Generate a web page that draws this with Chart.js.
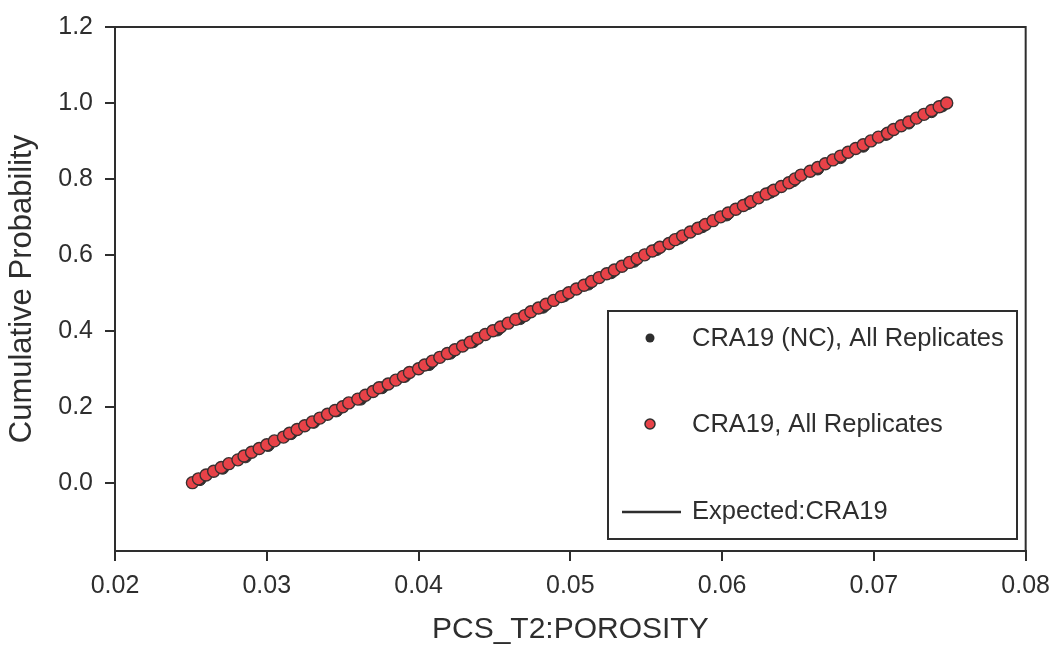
<!DOCTYPE html>
<html>
<head>
<meta charset="utf-8">
<script src="https://cdn.jsdelivr.net/npm/chart.js@4/dist/chart.umd.min.js"></script>
<style>
  html, body { margin: 0; padding: 0; background: #fff; }
  #wrap { width: 1060px; height: 648px; }
</style>
</head>
<body>
<div id="wrap"><canvas id="myChart" width="1060" height="648"></canvas></div>
<script>
const xTicks = [0.02, 0.03, 0.04, 0.05, 0.06, 0.07, 0.08];
const yTicks = [0.0, 0.2, 0.4, 0.6, 0.8, 1.0, 1.2];

// CRA19, All Replicates (red)
const redX = [0.0251, 0.0255, 0.0260, 0.0265, 0.0270, 0.0275, 0.0281, 0.0285, 0.0290, 0.0295,
  0.0300, 0.0305, 0.0311, 0.0315, 0.0320, 0.0325, 0.0330, 0.0335, 0.0340, 0.0345,
  0.0350, 0.0354, 0.0360, 0.0365, 0.0370, 0.0374, 0.0380, 0.0385, 0.0390, 0.0394,
  0.0400, 0.0404, 0.0409, 0.0414, 0.0419, 0.0424, 0.0429, 0.0434, 0.0439, 0.0444,
  0.0449, 0.0454, 0.0459, 0.0464, 0.0470, 0.0474, 0.0479, 0.0484, 0.0489, 0.0494,
  0.0499, 0.0504, 0.0509, 0.0514, 0.0519, 0.0524, 0.0529, 0.0534, 0.0539, 0.0544,
  0.0549, 0.0554, 0.0559, 0.0565, 0.0569, 0.0574, 0.0579, 0.0584, 0.0589, 0.0594,
  0.0599, 0.0604, 0.0609, 0.0614, 0.0619, 0.0624, 0.0629, 0.0634, 0.0639, 0.0644,
  0.0648, 0.0652, 0.0658, 0.0663, 0.0668, 0.0673, 0.0678, 0.0683, 0.0688, 0.0693,
  0.0698, 0.0703, 0.0709, 0.0713, 0.0718, 0.0723, 0.0728, 0.0733, 0.0738, 0.0743,
  0.0748];
const redY = [0.00, 0.01, 0.02, 0.03, 0.04, 0.05, 0.06, 0.07, 0.08, 0.09,
  0.10, 0.11, 0.12, 0.13, 0.14, 0.15, 0.16, 0.17, 0.18, 0.19,
  0.20, 0.21, 0.22, 0.23, 0.24, 0.25, 0.26, 0.27, 0.28, 0.29,
  0.30, 0.31, 0.32, 0.33, 0.34, 0.35, 0.36, 0.37, 0.38, 0.39,
  0.40, 0.41, 0.42, 0.43, 0.44, 0.45, 0.46, 0.47, 0.48, 0.49,
  0.50, 0.51, 0.52, 0.53, 0.54, 0.55, 0.56, 0.57, 0.58, 0.59,
  0.60, 0.61, 0.62, 0.63, 0.64, 0.65, 0.66, 0.67, 0.68, 0.69,
  0.70, 0.71, 0.72, 0.73, 0.74, 0.75, 0.76, 0.77, 0.78, 0.79,
  0.80, 0.81, 0.82, 0.83, 0.84, 0.85, 0.86, 0.87, 0.88, 0.89,
  0.90, 0.91, 0.92, 0.93, 0.94, 0.95, 0.96, 0.97, 0.98, 0.99,
  1.00];

// CRA19 (NC), All Replicates (black)
const blackX = [0.0256, 0.0271, 0.0286, 0.0301, 0.0316, 0.0331, 0.0346, 0.0362, 0.0376, 0.0391,
  0.0407, 0.0421, 0.0436, 0.0452, 0.0467, 0.0482, 0.0496, 0.0512, 0.0527, 0.0542,
  0.0557, 0.0572, 0.0587, 0.0603, 0.0617, 0.0632, 0.0647, 0.0663, 0.0678, 0.0693,
  0.0708, 0.0723, 0.0738, 0.0745];
const blackY = [0.008, 0.038, 0.068, 0.098, 0.129, 0.159, 0.189, 0.220, 0.250, 0.280,
  0.311, 0.341, 0.371, 0.402, 0.432, 0.462, 0.492, 0.523, 0.553, 0.583,
  0.614, 0.644, 0.674, 0.705, 0.735, 0.765, 0.795, 0.826, 0.856, 0.886,
  0.917, 0.947, 0.977, 0.992];

// Expected:CRA19
const expX = [0.0250, 0.0750];
const expY = [0.0, 1.0];

const legendLabels = ['CRA19 (NC), All Replicates', 'CRA19, All Replicates', 'Expected:CRA19'];

const FONT = "'Liberation Sans', Arial, sans-serif";
const INK = '#2e2e2e';
const RED = 'rgb(232,66,72)';

const toPoints = (xs, ys) => xs.map((x, i) => ({ x: x, y: ys[i] }));

// box around the plot + legend inside
const framePlugin = {
  id: 'frame',
  afterDraw(chart) {
    const { ctx, chartArea: a } = chart;
    ctx.save();
    ctx.strokeStyle = INK;
    ctx.lineWidth = 2;
    ctx.beginPath();
    ctx.moveTo(a.left, a.top);
    ctx.lineTo(a.right, a.top);
    ctx.lineTo(a.right, a.bottom);
    ctx.stroke();

    // legend box
    const bx = 608, by = 311, bw = 409, bh = 228;
    ctx.fillStyle = '#fff';
    ctx.fillRect(bx, by, bw, bh);
    ctx.strokeRect(bx, by, bw, bh);

    // symbols
    ctx.beginPath();
    ctx.arc(650, 338, 4.5, 0, Math.PI * 2);
    ctx.fillStyle = INK;
    ctx.fill();

    ctx.beginPath();
    ctx.arc(650, 424, 5, 0, Math.PI * 2);
    ctx.fillStyle = RED;
    ctx.fill();
    ctx.lineWidth = 1.5;
    ctx.strokeStyle = INK;
    ctx.stroke();

    ctx.beginPath();
    ctx.lineWidth = 2.5;
    ctx.moveTo(622, 512);
    ctx.lineTo(681, 512);
    ctx.stroke();

    ctx.fillStyle = INK;
    ctx.font = '25.5px ' + FONT;
    ctx.textBaseline = 'middle';
    ctx.textAlign = 'left';
    ctx.fillText(legendLabels[0], 692, 339);
    ctx.fillText(legendLabels[1], 692, 425);
    ctx.fillText(legendLabels[2], 692, 512);
    ctx.restore();
  }
};

const ctx = document.getElementById('myChart').getContext('2d');

const myChart = new Chart(ctx, {
  type: 'scatter',
  data: {
    datasets: [{
      label: legendLabels[1],
      data: toPoints(redX, redY),
      backgroundColor: RED,
      borderColor: '#3a3030',
      borderWidth: 1.4,
      pointRadius: 6,
      order: 1
    }, {
      label: legendLabels[0],
      data: toPoints(blackX, blackY),
      backgroundColor: INK,
      borderColor: INK,
      pointRadius: 6,
      order: 2
    }, {
      type: 'line',
      label: legendLabels[2],
      data: toPoints(expX, expY),
      borderColor: INK,
      borderWidth: 2,
      pointRadius: 0,
      fill: false,
      order: 3
    }]
  },
  options: {
    responsive: false,
    animation: false,
    layout: {
      padding: { top: 26, right: 31, left: 0, bottom: 0 }
    },
    scales: {
      x: {
        type: 'linear',
        min: 0.02,
        max: 0.08,
        afterBuildTicks: (scale) => { scale.ticks = xTicks.map((v) => ({ value: v })); },
        afterFit: (scale) => { scale.height = 97; },
        ticks: {
          callback: (v) => v.toFixed(2),
          color: INK,
          font: { family: FONT, size: 25 },
          padding: 10,
          maxRotation: 0
        },
        grid: {
          drawOnChartArea: false,
          drawTicks: true,
          tickLength: 10,
          color: INK,
          lineWidth: 2
        },
        border: { display: true, color: INK, width: 2 },
        title: {
          display: true,
          text: 'PCS_T2:POROSITY',
          color: INK,
          font: { family: FONT, size: 30 },
          padding: { top: 0, bottom: 0 }
        }
      },
      y: {
        type: 'linear',
        min: -0.18,
        max: 1.2,
        afterBuildTicks: (scale) => { scale.ticks = yTicks.map((v) => ({ value: v })); },
        afterFit: (scale) => { scale.width = 115; },
        ticks: {
          callback: (v) => v.toFixed(1),
          color: INK,
          font: { family: FONT, size: 25 },
          padding: 12
        },
        grid: {
          drawOnChartArea: false,
          drawTicks: true,
          tickLength: 10,
          color: INK,
          lineWidth: 2
        },
        border: { display: true, color: INK, width: 2 },
        title: {
          display: true,
          text: 'Cumulative Probability',
          color: INK,
          font: { family: FONT, size: 31 },
          padding: { top: 4, bottom: 0 }
        }
      }
    },
    plugins: {
      legend: { display: false },
      tooltip: { enabled: false }
    }
  },
  plugins: [framePlugin]
});
</script>
</body>
</html>
